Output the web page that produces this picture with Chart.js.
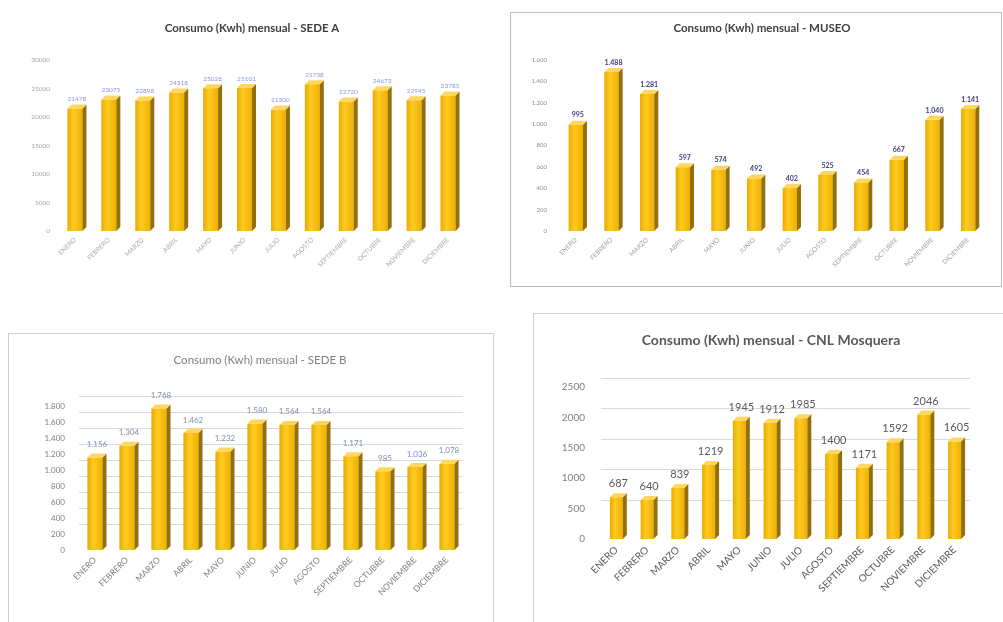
<!DOCTYPE html>
<html><head><meta charset="utf-8">
<script src="https://cdn.jsdelivr.net/npm/chart.js@4.4.1/dist/chart.umd.min.js"></script>
<style>
html,body{margin:0;padding:0;background:#fff;}
body{width:1003px;height:622px;position:relative;overflow:hidden;font-family:Lato,sans-serif;}
.p{position:absolute;box-sizing:border-box;background:#fff;}
.p canvas{display:block;}
</style></head><body>
<div class="p" style="left:0;top:0;width:470px;height:290px;"><canvas id="cA"></canvas></div>
<div class="p" style="left:510px;top:12px;width:492px;height:275px;border:1px solid #BFBFBF;"><canvas id="cM"></canvas></div>
<div class="p" style="left:8px;top:333px;width:486px;height:292px;border:1px solid #D0D0D0;"><canvas id="cB"></canvas></div>
<div class="p" style="left:533px;top:313px;width:475px;height:315px;border:1px solid #D0D0D0;"><canvas id="cC"></canvas></div>
<script>
const meses = ['ENERO','FEBRERO','MARZO','ABRIL','MAYO','JUNIO','JULIO','AGOSTO','SEPTIEMBRE','OCTUBRE','NOVIEMBRE','DICIEMBRE'];
const sedeA = [21478, 23075, 22898, 24318, 25028, 25101, 21300, 25738, 22720, 24673, 22945, 23785];
const museo = [995, 1488, 1281, 597, 574, 492, 402, 525, 454, 667, 1040, 1141];
const sedeB = [1156, 1304, 1768, 1462, 1232, 1580, 1564, 1564, 1171, 985, 1036, 1078];
const cnl = [687, 640, 839, 1219, 1945, 1912, 1985, 1400, 1171, 1592, 2046, 1605];
const ticksA = [0, 5000, 10000, 15000, 20000, 25000, 30000];
const ticksM = [0, 200, 400, 600, 800, 1000, 1200, 1400, 1600];
const ticksB = [0, 200, 400, 600, 800, 1000, 1200, 1400, 1600, 1800];
const ticksC = [0, 500, 1000, 1500, 2000, 2500];

function fmtNum(v, dot){
  const s = String(Math.round(v));
  return dot ? s.replace(/\B(?=(\d{3})+(?!\d))/g, '.') : s;
}

const bar3d = {
  id: 'bar3d',
  afterLayout(chart, args, o){
    const t = chart.titleBlock;
    if (t && o.titleShift) { t.left += o.titleShift; t.right += o.titleShift; }
  },
  beforeDatasetsDraw(chart, args, o){
    if(!o.grid) return;
    const ctx = chart.ctx, ys = chart.scales.y, a = chart.chartArea;
    ctx.save();
    ctx.strokeStyle = o.gridColor; ctx.lineWidth = 1;
    ys.ticks.forEach(t => {
      if (t.value === 0) return;
      const y = Math.round(ys.getPixelForValue(t.value) - o.gridOffset) + 0.5;
      ctx.beginPath(); ctx.moveTo(a.left, y); ctx.lineTo(a.right, y); ctx.stroke();
    });
    ctx.restore();
  },
  afterDatasetsDraw(chart, args, o){
    const ctx = chart.ctx, d = o.depth;
    const meta = chart.getDatasetMeta(0);
    const vals = chart.data.datasets[0].data;
    meta.data.forEach((el, i) => {
      const p = el.getProps(['x','y','base','width'], true);
      const l = p.x - p.width/2, r = p.x + p.width/2, y = p.y, b = p.base;
      ctx.save();
      const g = ctx.createLinearGradient(l, 0, r, 0);
      g.addColorStop(0, 'rgba(190,130,0,0.35)');
      g.addColorStop(0.4, 'rgba(255,225,110,0.30)');
      g.addColorStop(1, 'rgba(200,140,0,0.30)');
      ctx.fillStyle = g; ctx.fillRect(l, y, r - l, b - y);
      ctx.fillStyle = '#94700A';
      ctx.beginPath(); ctx.moveTo(r, b); ctx.lineTo(r + d, b - d); ctx.lineTo(r + d, y - d); ctx.lineTo(r, y); ctx.closePath(); ctx.fill();
      ctx.fillStyle = '#FFD75E';
      ctx.beginPath(); ctx.moveTo(l, y); ctx.lineTo(r, y); ctx.lineTo(r + d, y - d); ctx.lineTo(l + d, y - d); ctx.closePath(); ctx.fill();
      ctx.fillStyle = o.labelColor;
      ctx.font = o.labelFont;
      ctx.textAlign = 'center'; ctx.textBaseline = 'bottom';
      ctx.fillText(fmtNum(vals[i], o.dot), p.x + d/2, y - d - o.labelGap);
      ctx.restore();
    });
  }
};

function makeChart(id, c){
  return new Chart(document.getElementById(id), {
    type: 'bar',
    data: { labels: meses, datasets: [{ data: c.values, backgroundColor: '#FFC000', borderWidth: 0,
      barPercentage: c.barPct, categoryPercentage: 1 }] },
    plugins: [bar3d],
    options: {
      responsive: true, maintainAspectRatio: false, animation: false,
      layout: { padding: { left: 0, right: c.padRight, top: 0, bottom: 0 } },
      plugins: {
        legend: { display: false }, tooltip: { enabled: false },
        title: { display: true, text: c.title, color: c.titleColor,
          font: { family: 'Lato', size: c.titleSize, weight: c.titleWeight, lineHeight: 1.2 },
          padding: { top: c.titlePadTop, bottom: c.titlePadBottom } },
        bar3d: { depth: c.depth, labelColor: c.labelColor, labelFont: c.labelFont, labelGap: c.labelGap,
          dot: c.dot, grid: c.grid, gridColor: '#D9D9D9', gridOffset: c.gridOffset, titleShift: c.titleShift }
      },
      scales: {
        x: {
          grid: { display: false, drawTicks: false }, border: { display: false },
          ticks: { autoSkip: false, minRotation: 45, maxRotation: 45, padding: c.xPad,
            color: c.xColor, font: { family: 'Lato', size: c.xSize } },
          afterFit: s => { s.height = c.xHeight; }
        },
        y: {
          min: 0, max: c.ticks[c.ticks.length-1],
          afterBuildTicks: s => { s.ticks = c.ticks.map(v => ({ value: v })); },
          grid: { display: false, drawTicks: false }, border: { display: false },
          ticks: { padding: c.yPad, color: c.yColor, font: { family: 'Lato', size: c.ySize },
            callback: v => fmtNum(v, c.dot) },
          afterFit: s => { s.width = c.yWidth; }
        }
      }
    }
  });
}

makeChart('cA', { values: sedeA, ticks: ticksA, title: 'Consumo (Kwh) mensual - SEDE A',
  titleColor: '#404040', titleSize: 11.5, titleWeight: 'bold', titlePadTop: 21, titlePadBottom: 25.2, titleShift: 19.5,
  padRight: 5, yWidth: 58, yPad: 8, yColor: '#A6A6A6', ySize: 6.5, xColor: '#A8A8A8', xSize: 6.5, xPad: 5, xHeight: 59,
  barPct: 0.44, depth: 4, labelColor: '#8A96D8', labelFont: '6.5px Lato', labelGap: 2, dot: false, grid: false, gridOffset: 0 });

makeChart('cM', { values: museo, ticks: ticksM, title: 'Consumo (Kwh) mensual - MUSEO',
  titleColor: '#404040', titleSize: 11.5, titleWeight: 'bold', titlePadTop: 8, titlePadBottom: 25.2, titleShift: 13.5,
  padRight: 15, yWidth: 47, yPad: 11, yColor: '#8C8C8C', ySize: 6, xColor: '#A0A0A0', xSize: 6.5, xPad: 5, xHeight: 55,
  barPct: 0.40, depth: 4, labelColor: '#404078', labelFont: 'bold 7px Lato', labelGap: 2, dot: true, grid: false, gridOffset: 0 });

makeChart('cB', { values: sedeB, ticks: ticksB, title: 'Consumo (Kwh) mensual - SEDE B',
  titleColor: '#7F7F7F', titleSize: 11.5, titleWeight: 'normal', titlePadTop: 19.1, titlePadBottom: 39.1, titleShift: 24,
  padRight: 30, yWidth: 70, yPad: 14, yColor: '#808080', ySize: 8, xColor: '#7F7F7F', xSize: 8.5, xPad: 5, xHeight: 74,
  barPct: 0.47, depth: 4, labelColor: '#7F8CB0', labelFont: '8px Lato', labelGap: 5, dot: true, grid: true, gridOffset: 10 });

makeChart('cC', { values: cnl, ticks: ticksC, title: 'Consumo (Kwh) mensual - CNL Mosquera',
  titleColor: '#595959', titleSize: 14, titleWeight: 'bold', titlePadTop: 17.6, titlePadBottom: 38.6, titleShift: 19,
  padRight: 37, yWidth: 67, yPad: 16, yColor: '#808080', ySize: 10, xColor: '#595959', xSize: 10, xPad: 5, xHeight: 88,
  barPct: 0.42, depth: 4, labelColor: '#595959', labelFont: '11px Lato', labelGap: 4, dot: false, grid: true, gridOffset: 9 });
</script>
</body></html>
